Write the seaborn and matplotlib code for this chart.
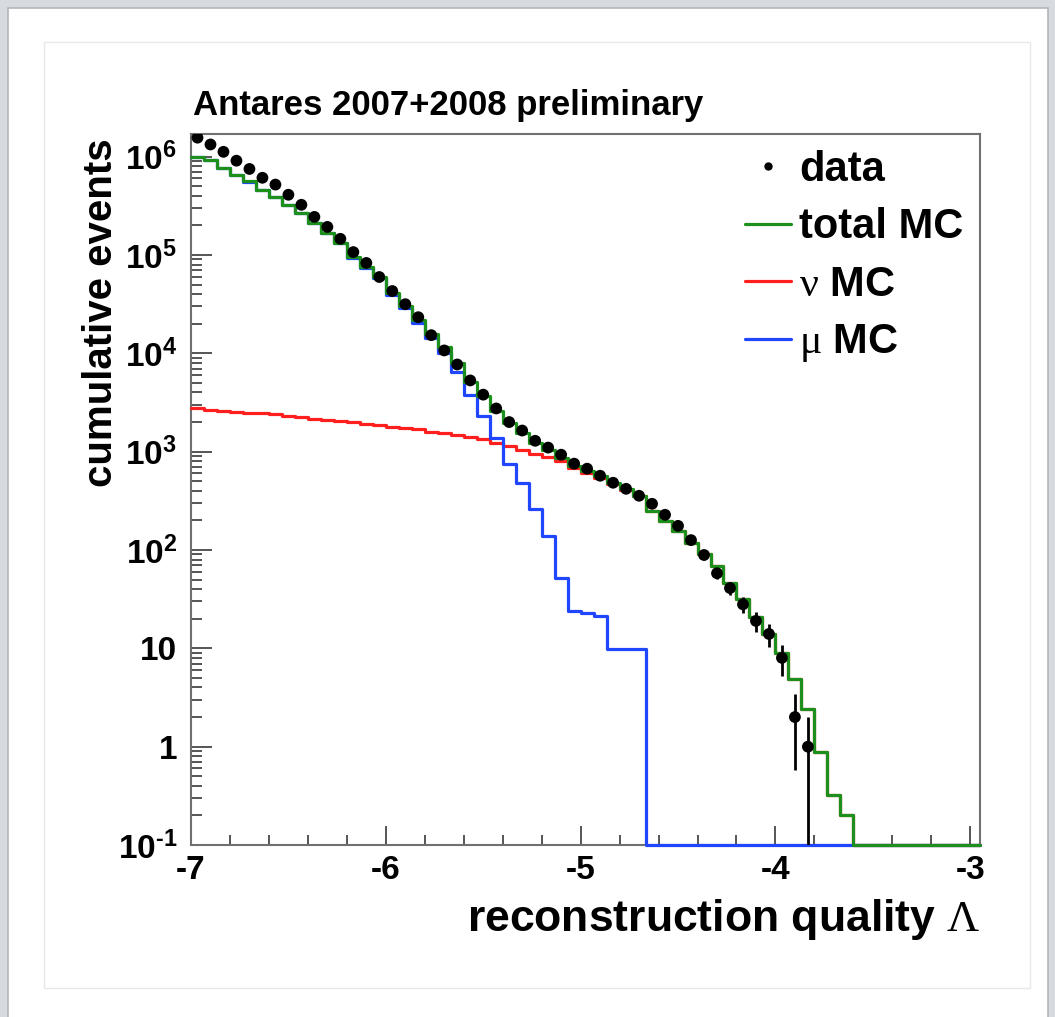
import numpy as np
import pandas as pd
import matplotlib
matplotlib.use("Agg")
import matplotlib.pyplot as plt
import seaborn as sns
from matplotlib.lines import Line2D
from matplotlib.patches import Rectangle
from matplotlib.ticker import FixedLocator, FixedFormatter, LogLocator, NullFormatter, MultipleLocator

# ---------------- data ----------------
x_min, x_max = -7.0, -2.95
bin_width = 1.0 / 15.0
n_bins = 60

data_counts = [1.56e6, 1.33e6, 1.12e6, 9.1e5, 7.5e5, 6.1e5, 5.2e5, 4.1e5, 3.24e5, 2.44e5,
               1.93e5, 1.46e5, 1.07e5, 8.3e4, 5.97e4, 4.3e4, 3.16e4, 2.33e4, 1.53e4, 1.07e4,
               7700, 5300, 3800, 2750, 2000, 1640, 1290, 1100, 931, 755,
               671, 569, 483, 419, 356, 295, 228, 176, 126, 89,
               58, 41, 28, 19, 14, 8, 2, 1]

total_mc = [1.0e6, 9.3e5, 7.7e5, 6.5e5, 5.6e5, 4.6e5, 3.9e5, 3.24e5, 2.68e5, 2.12e5,
            1.68e5, 1.33e5, 9.5e4, 7.5e4, 5.97e4, 4.1e4, 3.05e4, 2.2e4, 1.58e4, 1.15e4,
            7900, 5100, 3650, 2600, 1950, 1550, 1220, 1030, 860, 720,
            640, 560, 480, 415, 356, 250, 198, 156, 118, 91,
            69, 46, 31.6, 21, 13.9, 8.9, 4.9, 2.4, 0.89, 0.32,
            0.2, 0, 0, 0, 0, 0, 0, 0, 0, 0]

nu_mc = [2750, 2650, 2600, 2550, 2500, 2450, 2400, 2300, 2230, 2170,
         2110, 2050, 1990, 1930, 1860, 1790, 1740, 1690, 1600, 1540,
         1470, 1400, 1330, 1230, 1130, 1030, 950, 890, 800, 680,
         610, 540, 470, 410, 350, 250, 198, 156, 118, 91,
         69, 46, 31.6, 21, 13.9, 8.9, 4.9, 2.4, 0.89, 0.32,
         0.2, 0, 0, 0, 0, 0, 0, 0, 0, 0]

mu_mc = [9.97e5, 9.27e5, 7.67e5, 6.47e5, 5.57e5, 4.57e5, 3.87e5, 3.22e5, 2.66e5, 2.1e5,
         1.66e5, 1.31e5, 9.3e4, 7.3e4, 5.78e4, 3.92e4, 2.88e4, 2.02e4, 1.42e4, 1.0e4,
         6400, 3730, 2330, 1390, 755, 483, 262, 139, 52, 23.9,
         22.7, 21.2, 9.8, 9.8, 9.8, 0, 0, 0, 0, 0,
         0, 0, 0, 0, 0, 0, 0, 0, 0, 0,
         0, 0, 0, 0, 0, 0, 0, 0, 0, 0]

y_ticks = [0.1, 1, 10, 1e2, 1e3, 1e4, 1e5, 1e6]
y_tick_labels = [r"$10^{\text{-}1}$", "1", "10", r"$10^{2}$", r"$10^{3}$", r"$10^{4}$", r"$10^{5}$", r"$10^{6}$"]
x_ticks = [-7, -6, -5, -4, -3]
x_tick_labels = ["-7", "-6", "-5", "-4", "-3"]

title = "Antares 2007+2008 preliminary"
x_label = r"reconstruction quality $\mathsf{\Lambda}$"
y_label = "cumulative events"
legend_labels = ["data", "total MC", r"$\mathsf{\nu}$ MC", r"$\mathsf{\mu}$ MC"]

# ---------------- style ----------------
sns.set_theme(style="ticks")
plt.rcParams["font.family"] = ["Liberation Sans", "DejaVu Sans"]
plt.rcParams["mathtext.fontset"] = "custom"
plt.rcParams["mathtext.rm"] = "Liberation Sans:bold"
plt.rcParams["mathtext.bf"] = "Liberation Sans:bold"
plt.rcParams["mathtext.it"] = "Liberation Sans:bold:italic"
plt.rcParams["mathtext.sf"] = "Liberation Serif"
plt.rcParams["mathtext.default"] = "rm"
plt.rcParams["axes.unicode_minus"] = False
plt.rcParams["text.color"] = "black"
plt.rcParams["xtick.labelcolor"] = "black"
plt.rcParams["ytick.labelcolor"] = "black"

c_green = "#1c8f1c"
c_red = "#ff1f1f"
c_blue = "#2046ff"

W, H = 1055, 1017
fig = plt.figure(figsize=(W / 100, H / 100), dpi=100, facecolor="#d7dbe0")
fig.add_artist(Rectangle((8 / W, -0.01), (1048 - 8) / W, (H - 8) / H + 0.01,
                         transform=fig.transFigure, facecolor="white",
                         edgecolor="#b2b6bb", lw=1.2, zorder=0))
fig.add_artist(Rectangle((44 / W, 1 - 988 / H), (1030 - 44) / W, (988 - 42) / H,
                         transform=fig.transFigure, facecolor="none",
                         edgecolor="#e8e8e8", lw=1.0, zorder=0))

ax = fig.add_axes([191 / W, 1 - 845 / H, (980 - 191) / W, (845 - 134) / H])
ax.set_facecolor("white")
ax.set_yscale("log")
y_min, y_max = 0.1, 1.7e6

edges = x_min + bin_width * np.arange(n_bins + 1)
centers = edges[:-1] + bin_width / 2


def step_frame(vals):
    v = np.maximum(np.asarray(vals, dtype=float), y_min)
    x = np.append(edges[:-1], x_max)
    y = np.append(v, v[-1])
    return pd.DataFrame({"x": x, "y": y})


for vals, col in [(nu_mc, c_red), (mu_mc, c_blue), (total_mc, c_green)]:
    df = step_frame(vals)
    sns.lineplot(data=df, x="x", y="y", drawstyle="steps-post", estimator=None,
                 sort=False, color=col, lw=2.3, ax=ax, clip_on=False, zorder=3)

d = np.asarray(data_counts, dtype=float)
dx = centers[:len(d)]
ax.errorbar(dx, d, yerr=np.sqrt(d), fmt="none", ecolor="black", elinewidth=2.0,
            capsize=0, zorder=4)
sns.scatterplot(x=dx, y=d, color="black", s=72, edgecolor="none", ax=ax, zorder=5)

ax.set_xlim(x_min, x_max)
ax.set_ylim(y_min, y_max)
ax.set_xlabel("")
ax.set_ylabel("")

ax.xaxis.set_major_locator(FixedLocator(x_ticks))
ax.xaxis.set_major_formatter(FixedFormatter(x_tick_labels))
ax.xaxis.set_minor_locator(MultipleLocator(0.2))
ax.yaxis.set_major_locator(FixedLocator(y_ticks))
ax.yaxis.set_major_formatter(FixedFormatter(y_tick_labels))
ax.yaxis.set_minor_locator(LogLocator(base=10, subs=np.arange(2, 10), numticks=20))
ax.yaxis.set_minor_formatter(NullFormatter())

ax.tick_params(which="both", direction="in", top=False, right=False, color="#555555")
ax.tick_params(axis="x", which="major", length=14, width=1.4, pad=7, labelsize=24)
ax.tick_params(axis="x", which="minor", length=7, width=1.4)
ax.tick_params(axis="y", which="major", length=15, width=1.4, pad=10, labelsize=24)
ax.tick_params(axis="y", which="minor", length=8, width=1.4)
for lab in ax.get_xticklabels() + ax.get_yticklabels():
    lab.set_fontweight("bold")
for sp in ax.spines.values():
    sp.set_visible(True)
    sp.set_color("#707070")
    sp.set_linewidth(1.5)

fig.text(193 / W, 1 - 105 / H, title, fontsize=25, fontweight="bold", ha="left", va="center")
fig.text(980 / W, 1 - 920 / H, x_label, fontsize=32, fontweight="bold", ha="right", va="center")
fig.text(101 / W, 1 - 138 / H, y_label, fontsize=29, fontweight="bold", rotation=90,
         ha="center", va="top")

handles = [Line2D([], [], ls="none", marker="o", ms=5, color="black"),
           Line2D([], [], color=c_green, lw=2.3),
           Line2D([], [], color=c_red, lw=2.3),
           Line2D([], [], color=c_blue, lw=2.3)]
ax.legend(handles, legend_labels, loc="upper left",
          bbox_to_anchor=((745 - 191) / 789, (845 - 150) / 711),
          frameon=False, prop={"size": 30, "weight": "bold"},
          handlelength=1.1, handletextpad=0.2, labelspacing=0.42,
          borderpad=0, borderaxespad=0)

fig.savefig("out.png", dpi=100, facecolor=fig.get_facecolor())
